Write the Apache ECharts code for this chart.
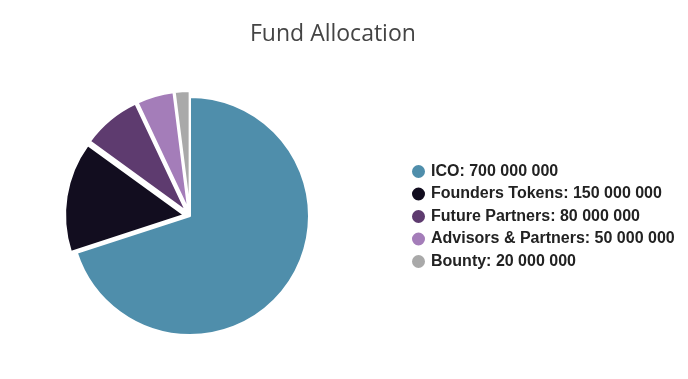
<!DOCTYPE html>
<html><head><meta charset="utf-8">
<script src="https://cdn.jsdelivr.net/npm/echarts@6/dist/echarts.min.js"></script>
<style>html,body{margin:0;padding:0;background:#fff}#c{width:688px;height:379px}</style>
</head><body><div id="c"></div>
<script>
const categories = ['ICO', 'Founders Tokens', 'Future Partners', 'Advisors & Partners', 'Bounty'];
const values = [700000000, 150000000, 80000000, 50000000, 20000000];
const colors = ['#4f8eab', '#120d1f', '#5e3b6f', '#a47db9', '#a9a9a9'];
const fmt = v => String(v).replace(/\B(?=(\d{3})+(?!\d))/g, ' ');
const chart = echarts.init(document.getElementById('c'));
chart.setOption({
  animation: false,
  title: { text: 'Fund Allocation', left: 245, top: 18,
    textStyle: { fontFamily: 'Open Sans', fontWeight: 'normal', fontSize: 23, color: '#444' } },
  legend: {
    orient: 'vertical', left: 405, top: 158, icon: 'circle', itemWidth: 15, itemHeight: 15, itemGap: 5.5,
    textStyle: { fontFamily: 'Liberation Sans, Arial, sans-serif', fontWeight: 'bold', fontSize: 16, color: '#222' },
    formatter: n => n + ': ' + fmt(values[categories.indexOf(n)])
  },
  series: [{
    type: 'pie', center: [190, 216], radius: [0, 119], startAngle: 90, clockwise: true,
    selectedMode: 'multiple', selectedOffset: 6, label: { show: false }, labelLine: { show: false },
    itemStyle: { borderColor: '#fff', borderWidth: 2 },
    emphasis: { disabled: true },
    data: categories.map((c, i) => ({ name: c, value: values[i], selected: i > 0, itemStyle: { color: colors[i] } }))
  }]
});
</script></body></html>
